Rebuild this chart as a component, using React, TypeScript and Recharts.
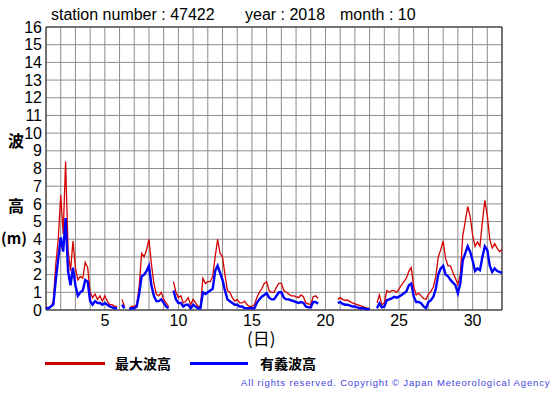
import { LineChart, Line, XAxis, YAxis, CartesianGrid, ReferenceArea } from 'recharts'

// 4-hourly readings, 6 per day from Oct 1 00:00 to Oct 31 24:00 (null = missing)
const maxWaveHeight: (number | null)[] = [
  0.2, 0.1, 0.2, 0.5, 2.6, 4.0,
  6.5, 4.3, 8.4, 3.4, 2.2, 3.9,
  2.4, 1.7, 1.9, 1.8, 2.7, 2.4,
  1.0, 0.7, 0.9, 0.6, 0.8, 0.5,
  0.8, 0.5, 0.3, 0.3, 0.2, 0.2,
  null, 0.6, 0.2, null, 0.1, 0.2,
  0.2, 0.3, 1.3, 3.2, 3.0, 3.4,
  4.0, 2.6, 1.5, 0.9, 0.8, 1.0,
  0.6, 0.4, 0.2, null, 1.6, 1.0,
  0.7, 0.8, 0.4, 0.5, 0.7, 0.3,
  0.6, 0.4, 0.2, 0.2, 1.8, 1.5,
  1.6, 1.6, 1.9, 3.0, 4.0, 3.2,
  3.0, 2.0, 1.1, 1.0, 0.7, 0.5,
  0.6, 0.4, 0.4, 0.5, 0.3, 0.2,
  0.2, 0.3, 0.7, 1.0, 1.2, 1.5,
  1.6, 1.1, 1.0, 1.0, 1.3, 1.5,
  1.5, 1.1, 1.0, 0.9, 0.8, 0.8,
  0.75, 0.7, 0.85, 0.75, 0.4, 0.35,
  0.3, 0.75, 0.8, 0.65, null, null,
  null, null, null, null, null, 0.6,
  0.7, 0.6, 0.55, 0.55, 0.47, 0.4,
  0.35, 0.3, 0.25, 0.2, 0.15, 0.1,
  0.1, null, null, 0.4, 0.85, 0.3,
  0.4, 1.1, 1.0, 1.1, 1.1, 1.0,
  1.2, 1.4, 1.6, 1.8, 2.2, 2.4,
  1.3, 0.85, 0.95, 0.8, 0.65, 0.6,
  0.9, 1.05, 1.3, 1.9, 3.0, 3.4,
  3.9, 2.9, 2.5, 2.5, 2.1, 1.8,
  1.45, 2.0, 4.2, 5.0, 5.85, 5.3,
  4.25, 3.6, 3.85, 3.6, 5.0, 6.2,
  5.35, 4.0, 3.5, 3.75, 3.5, 3.3,
  3.4,
]

const sigWaveHeight: (number | null)[] = [
  0.1, 0.1, 0.2, 0.3, 1.7, 2.9,
  4.1, 3.3, 5.2, 2.2, 1.4, 2.4,
  1.4, 0.8, 1.0, 1.1, 1.7, 1.6,
  0.5, 0.3, 0.5, 0.4, 0.4, 0.3,
  0.4, 0.3, 0.2, 0.15, 0.1, 0.1,
  null, 0.3, 0.1, null, 0.05, 0.1,
  0.1, 0.2, 0.9, 1.9, 2.0, 2.2,
  2.5, 1.4, 0.8, 0.5, 0.5, 0.6,
  0.4, 0.2, 0.1, null, 1.1, 0.6,
  0.4, 0.4, 0.2, 0.3, 0.3, 0.1,
  0.3, 0.2, 0.1, 0.1, 1.0, 0.9,
  1.0, 1.1, 1.2, 2.2, 2.5, 2.1,
  1.7, 1.1, 0.6, 0.5, 0.4, 0.3,
  0.3, 0.2, 0.2, 0.1, 0.1, 0.1,
  0.1, 0.1, 0.4, 0.6, 0.75, 0.85,
  0.95, 0.7, 0.6, 0.6, 0.8, 1.0,
  1.0, 0.7, 0.6, 0.6, 0.55, 0.5,
  0.45, 0.4, 0.45, 0.4, 0.2, 0.15,
  0.15, 0.45, 0.45, 0.35, null, null,
  null, null, null, null, null, 0.4,
  0.45, 0.35, 0.3, 0.3, 0.25, 0.2,
  0.2, 0.15, 0.1, 0.1, 0.08, 0.06,
  0.05, null, null, 0.1, 0.38, 0.15,
  0.2, 0.55, 0.6, 0.65, 0.75, 0.7,
  0.75, 0.85, 0.95, 1.05, 1.4, 1.5,
  0.75, 0.45, 0.45, 0.38, 0.2, 0.1,
  0.45, 0.55, 0.75, 1.2, 2.0, 2.35,
  2.5, 2.0, 1.9, 1.7, 1.55, 1.4,
  0.95, 1.5, 2.8, 3.2, 3.6, 3.3,
  2.8, 2.2, 2.35, 2.25, 3.0, 3.6,
  3.4, 2.5, 2.15, 2.35, 2.2, 2.15,
  2.1,
]

const dayTicks = Array.from({ length: 32 }, (_, i) => i + 1)
const labeledDays = [5, 10, 15, 20, 25, 30]
const heightTicks = Array.from({ length: 17 }, (_, i) => i)

const data = maxWaveHeight.map((v, i) => ({
  day: 1 + i / 6,
  max: v,
  sig: sigWaveHeight[i],
}))

const sans = '"Liberation Sans", Arial, Helvetica, sans-serif'
const jp = '"Noto Sans CJK JP", sans-serif'

export default function App() {
  return (
    <div style={{ position: 'absolute', left: 0, top: 0, width: 555, height: 395, background: '#fff' }}>
      <LineChart width={555} height={395} data={data} margin={{ top: 27, right: 53, left: 16, bottom: 65 }}>
        <CartesianGrid stroke="#8c8c8c" strokeWidth={1} />
        <XAxis
          type="number"
          dataKey="day"
          domain={[1, 32]}
          ticks={dayTicks}
          interval={0}
          tickFormatter={(d: number) => (labeledDays.includes(d) ? String(d) : '')}
          axisLine={false}
          tickLine={false}
          tickSize={5}
          tickMargin={0}
          height={20}
          tick={{ fill: '#000', fontSize: 16, fontFamily: sans }}
        />
        <YAxis
          type="number"
          domain={[0, 16]}
          ticks={heightTicks}
          interval={0}
          axisLine={false}
          tickLine={false}
          tickSize={0}
          tickMargin={4}
          width={30}
          tick={{ fill: '#000', fontSize: 16, fontFamily: sans }}
        />
        <ReferenceArea x1={1} x2={32} y1={0} y2={16} fill="none" fillOpacity={0} stroke="#222" strokeWidth={1} />
        <Line type="linear" dataKey="max" stroke="#d40000" strokeWidth={1.3} dot={false} connectNulls={false} isAnimationActive={false} />
        <Line type="linear" dataKey="sig" stroke="#0000ff" strokeWidth={2.4} dot={false} connectNulls={false} isAnimationActive={false} />
      </LineChart>

      <div style={{ position: 'absolute', top: 6, left: 51, fontFamily: sans, fontSize: 16, color: '#000', whiteSpace: 'pre' }}>
        station number : 47422
      </div>
      <div style={{ position: 'absolute', top: 6, left: 245, fontFamily: sans, fontSize: 16, color: '#000', whiteSpace: 'pre' }}>
        year : 2018
      </div>
      <div style={{ position: 'absolute', top: 6, left: 340, fontFamily: sans, fontSize: 16, color: '#000', whiteSpace: 'pre' }}>
        month : 10
      </div>

      <div style={{ position: 'absolute', top: 128, left: 8, fontFamily: jp, fontSize: 16, fontWeight: 700 }}>波</div>
      <div style={{ position: 'absolute', top: 193, left: 8, fontFamily: jp, fontSize: 16, fontWeight: 700 }}>高</div>
      <div style={{ position: 'absolute', top: 227, left: 1, fontFamily: jp, fontSize: 15, fontWeight: 700 }}>(m)</div>

      <div style={{ position: 'absolute', top: 329, left: 247, fontFamily: jp, fontSize: 17, lineHeight: 1 }}>(日)</div>

      <div style={{ position: 'absolute', top: 353, left: 45, display: 'flex', alignItems: 'center', fontFamily: jp, fontSize: 14, fontWeight: 700 }}>
        <div style={{ width: 60, height: 3, background: '#cc0000' }} />
        <span style={{ marginLeft: 10 }}>最大波高</span>
        <div style={{ width: 58, height: 3, background: '#0000ff', marginLeft: 19 }} />
        <span style={{ marginLeft: 12 }}>有義波高</span>
      </div>

      <div style={{ position: 'absolute', top: 377, left: 241, fontFamily: sans, fontSize: 9.5, letterSpacing: 0.85, color: '#4444dd', whiteSpace: 'pre' }}>
        All rights reserved. Copyright © Japan Meteorological Agency
      </div>
    </div>
  )
}
